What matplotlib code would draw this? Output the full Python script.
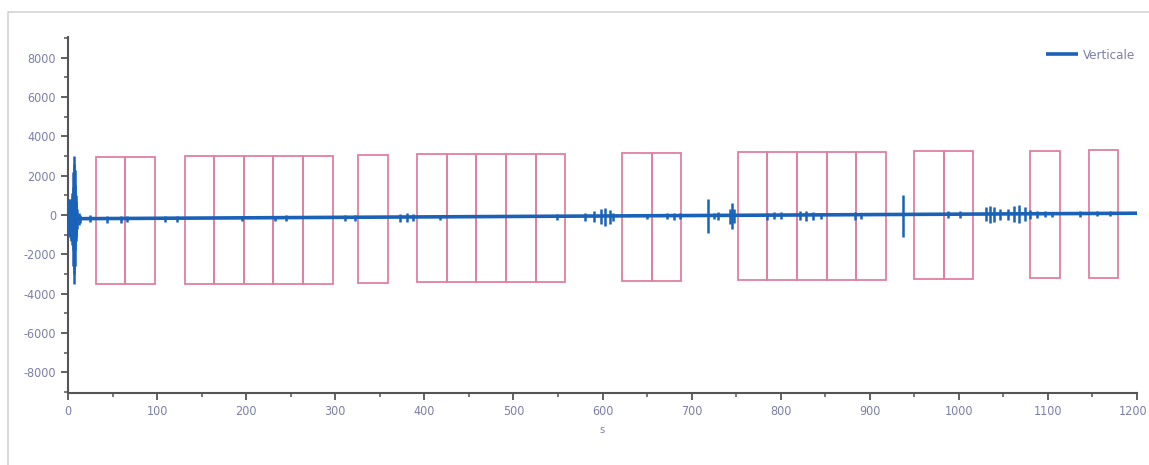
import matplotlib
matplotlib.use("Agg")
import matplotlib.pyplot as plt
import matplotlib.transforms as mtransforms
from matplotlib.patches import Rectangle
from matplotlib.ticker import MultipleLocator

# ==================== data ====================
# baseline of the trace (s, value)
base_t = [0, 1200]
base_v = [-190, 90]

# bursts / spikes of the trace: time (s), min, max
spike_t = [0.5, 1, 1.5, 2, 2.5, 3, 3.5, 4, 4.5, 5, 5.5, 6, 6.5, 7, 7.5, 8, 8.5, 9, 9.5, 10.5, 12, 14,
           25, 44, 60, 66, 109, 122, 195, 232, 245, 311, 322,
           373, 380, 387, 418, 549,
           580, 590, 598, 603, 608, 612, 650, 672, 680, 687,
           718, 725, 730, 743, 745, 748,
           785, 793, 800, 822, 828, 836, 845, 883, 890, 937,
           988, 1001, 1031, 1035, 1040, 1046, 1055, 1062, 1068, 1074, 1080,
           1088, 1097, 1105, 1136, 1155, 1170]
spike_lo = [-800, -950, -1100, -1000, -900, -1200, -1300, -1200, -1100, -1500, -1800, -2600, -3500, -3000,
            -2600, -1800, -1300, -1100, -900, -700, -500, -400,
            -380, -400, -390, -380, -360, -370, -330, -330, -320, -300, -310,
            -350, -380, -330, -250, -230,
            -300, -350, -450, -550, -450, -300, -200, -220, -250, -200,
            -900, -200, -250, -450, -700, -400,
            -250, -200, -220, -250, -300, -250, -200, -250, -200, -1100,
            -150, -150, -300, -400, -350, -250, -250, -350, -400, -300, -200,
            -150, -100, -100, -80, -50, -50]
spike_hi = [700, 800, 800, 700, 600, 650, 700, 800, 900, 1100, 1400, 2200, 3000, 2600,
            2300, 1500, 1000, 700, 500, 300, 100, 0,
            -20, -30, -40, -50, -30, -40, -40, -30, -20, 0, -10,
            50, 80, 30, -50, 60,
            100, 200, 300, 350, 250, 100, 50, 80, 120, 80,
            800, 100, 150, 300, 600, 300,
            100, 150, 150, 200, 200, 150, 100, 150, 100, 1000,
            200, 200, 400, 450, 400, 300, 300, 450, 500, 400, 250,
            200, 200, 150, 200, 200, 180]

# analysis windows: group start (s), number of windows, top, bottom
win_start = [31, 131, 326, 392, 622, 752, 950, 1080, 1146]
win_count = [2, 5, 1, 5, 2, 5, 2, 1, 1]
win_top = [2950, 3000, 3050, 3100, 3150, 3200, 3250, 3250, 3300]
win_bottom = [-3500, -3500, -3450, -3400, -3350, -3300, -3250, -3200, -3200]
win_len = 33.2

# ==================== style ====================
plt.rcParams['font.family'] = ['DejaVu Sans']
plt.rcParams['font.stretch'] = 'condensed'
plt.rcParams['axes.unicode_minus'] = False
txt_col = '#7c7fa6'
blue = '#1a62b8'
pink = '#e07fa3'

fig = plt.figure(figsize=(11.49, 4.65), dpi=100)
ax = fig.add_axes([68 / 1149, 1 - 393 / 465, (1137 - 68) / 1149, (393 - 37) / 465])

# outer scan frame
fig.patches.append(Rectangle((8 / 1149, -0.1), 1.1, 1.1 - 12 / 465, transform=fig.transFigure,
                             fill=False, edgecolor='#d4d4d8', lw=1.2))

# windows
for s, n, top, bot in zip(win_start, win_count, win_top, win_bottom):
    for k in range(n):
        ax.add_patch(Rectangle((s + k * win_len, bot), win_len, top - bot,
                               fill=False, edgecolor=pink, lw=1.3, zorder=2))

# trace
ax.plot(base_t, base_v, color=blue, lw=2.6, label='Verticale', zorder=3, solid_capstyle='butt')
ax.vlines(spike_t, spike_lo, spike_hi, color=blue, lw=1.8, zorder=3)

ax.set_xlim(0, 1200)
ax.set_ylim(-9050, 9050)
ax.set_xticks(range(0, 1201, 100))
ax.xaxis.set_minor_locator(MultipleLocator(50))
ax.yaxis.set_minor_locator(MultipleLocator(1000))
ax.set_yticks(range(-8000, 8001, 2000))
ax.tick_params(which='major', length=5, width=1.3, color='#555555', labelsize=9, labelcolor=txt_col)
ax.tick_params(which='minor', length=3, width=1.1, color='#555555')

# keep the last x label inside the picture
last = ax.get_xticklabels()[-1]
last.set_transform(last.get_transform() + mtransforms.ScaledTranslation(-4 / 100, 0, fig.dpi_scale_trans))

for sp in ['top', 'right']:
    ax.spines[sp].set_visible(False)
for sp in ['left', 'bottom']:
    ax.spines[sp].set_color('#555555')
    ax.spines[sp].set_linewidth(1.5)

ax.set_xlabel('s', fontsize=8, color=txt_col, labelpad=5)

ax.legend(loc='upper right', bbox_to_anchor=(1147 / 1149, 1 - 37 / 465),
          bbox_transform=fig.transFigure, frameon=False, fontsize=9.5,
          handlelength=2.4, labelcolor=txt_col, handletextpad=0.4)

fig.savefig('out.png', dpi=100)
